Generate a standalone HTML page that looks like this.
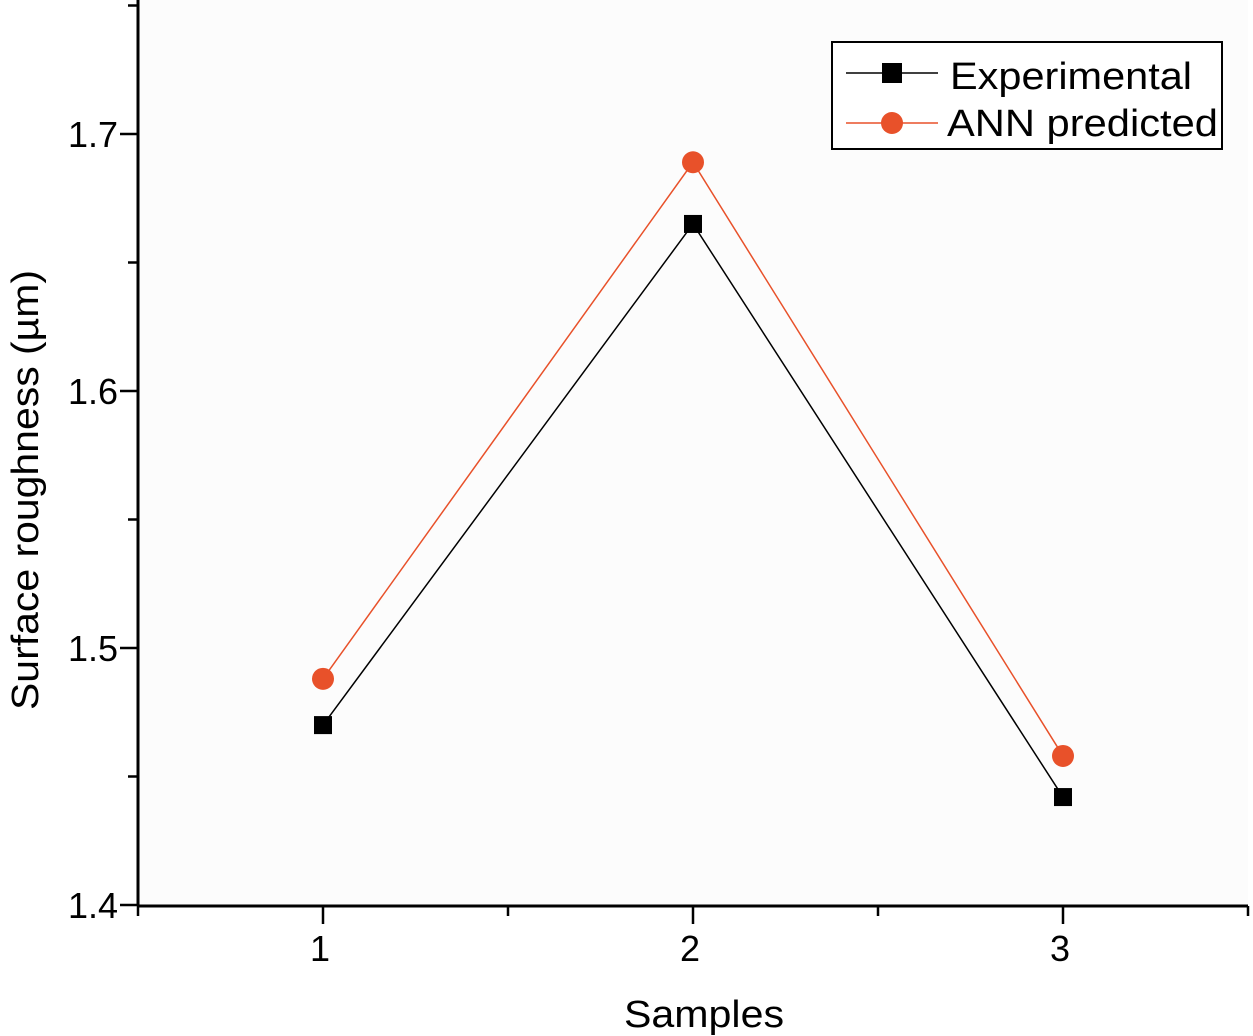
<!DOCTYPE html>
<html><head><meta charset="utf-8"><style>
html,body{margin:0;padding:0;background:#fff;}
svg{display:block;font-family:"Liberation Sans",Arial,sans-serif;}
</style></head><body>
<svg id="chart" width="1253" height="1036" viewBox="0 0 1253 1036" xmlns="http://www.w3.org/2000/svg">
<rect x="138" y="0" width="1110" height="906" fill="#fcfcfc"/>
<g id="axes"></g>
<g id="series"></g>
<text x="0" y="0" transform="translate(38,490) rotate(-90)" text-anchor="middle" font-size="38" textLength="440" lengthAdjust="spacingAndGlyphs" fill="#000">Surface roughness (µm)</text>
<text x="704" y="1027" text-anchor="middle" font-size="38" textLength="160" lengthAdjust="spacingAndGlyphs" fill="#000">Samples</text>
<g>
<rect x="832" y="42" width="390" height="107" fill="#fff" stroke="#000" stroke-width="2"/>
<g>
<line x1="846" y1="73" x2="938" y2="73" stroke="#000" stroke-width="1.5"/>
<rect x="882" y="63" width="20" height="20" fill="#000"/>
<text x="950" y="89" font-size="38" textLength="242" lengthAdjust="spacingAndGlyphs" fill="#000">Experimental</text>
</g>
<g>
<line x1="846" y1="123" x2="938" y2="123" stroke="#e8512a" stroke-width="1.5"/>
<circle cx="892" cy="123" r="11" fill="#e8512a"/>
<text x="947" y="136" font-size="38" textLength="271" lengthAdjust="spacingAndGlyphs" fill="#000">ANN predicted</text>
</g>
</g>
</svg>
<script>
const categories = [1, 2, 3];
const experimental = [1.470, 1.665, 1.442];
const annPredicted = [1.488, 1.689, 1.458];
const yTicks = ["1.4", "1.5", "1.6", "1.7"];
const NS = "http://www.w3.org/2000/svg";
const xScale = v => 138 + (v - 0.5) * 370;
const yScale = v => 905 - (v - 1.4) * 2570;
function mk(tag, attrs, parent) {
  const e = document.createElementNS(NS, tag);
  for (const k in attrs) e.setAttribute(k, attrs[k]);
  parent.appendChild(e);
  return e;
}
const axes = document.getElementById('axes');
const ya = mk('line', {x1:138,y1:0,x2:138,y2:906,stroke:'#000','stroke-width':3}, axes);


const xa = mk('line', {x1:137,y1:906,x2:1248,y2:906,stroke:'#000','stroke-width':3}, axes);


yTicks.forEach(t => {
  const y = yScale(parseFloat(t));
  const tk = mk('line', {x1:120,y1:y,x2:138,y2:y,stroke:'#000','stroke-width':2.5}, axes);
  
  
  const m = yScale(parseFloat(t) + 0.05);
  const mt = mk('line', {x1:128,y1:m,x2:138,y2:m,stroke:'#000','stroke-width':2.5}, axes);
  
  
  const lb = mk('text', {x:118,y:y+13,'text-anchor':'end','font-size':36,fill:'#000'}, axes);
  lb.textContent = t;
  
  
});
[0.5,1,1.5,2,2.5,3,3.5].forEach(v => {
  const x = xScale(v);
  const major = Number.isInteger(v);
  const tk = mk('line', {x1:x,y1:906,x2:x,y2:major?924:916,stroke:'#000','stroke-width':2.5}, axes);
  
  
});
categories.forEach(c => {
  const lb = mk('text', {x:xScale(c)-3,y:961,'text-anchor':'middle','font-size':36,fill:'#000'}, axes);
  lb.textContent = String(c);
  
  
});
const series = document.getElementById('series');
function drawSeries(vals, color, marker, name) {
  const pts = vals.map((v, i) => xScale(categories[i]) + ',' + yScale(v)).join(' ');
  const pl = mk('polyline', {points:pts,fill:'none',stroke:color,'stroke-width':1.5}, series);
  
  
  vals.forEach((v, i) => {
    const x = xScale(categories[i]), y = yScale(v);
    let m;
    if (marker === 'square') m = mk('rect', {x:x-9,y:y-9,width:18,height:18,fill:color}, series);
    else m = mk('circle', {cx:x,cy:y,r:11,fill:color}, series);
    
    
  });
}
drawSeries(experimental, '#000', 'square', 'experimental');
drawSeries(annPredicted, '#e8512a', 'circle', 'ann-predicted');
</script>
</body></html>
